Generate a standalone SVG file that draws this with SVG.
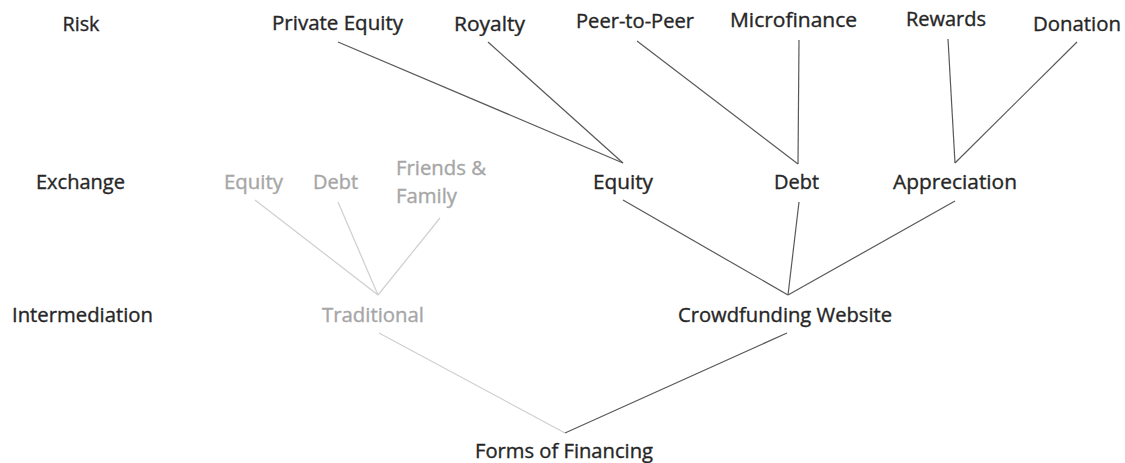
<svg xmlns="http://www.w3.org/2000/svg" width="1125" height="463" viewBox="0 0 1125 463">
<style>
text{font-family:"Open Sans","Liberation Sans",sans-serif;font-size:19.5px;fill:#262626;stroke:#262626;stroke-width:0.35}
.g text{fill:#a6a6a6;stroke:#a6a6a6}
.c line{stroke:#595959;stroke-width:1.2;fill:none}
.c .gl{stroke:#cfcfcf}
</style>
<rect width="1125" height="463" fill="#fff"/>
<g id="connectors" class="c">
<line x1="338" y1="42" x2="623" y2="163"/>
<line x1="488" y1="42" x2="623" y2="163"/>
<line x1="637" y1="41" x2="798" y2="164"/>
<line x1="799" y1="40" x2="798" y2="164"/>
<line x1="948" y1="39" x2="955" y2="163"/>
<line x1="1077" y1="42" x2="955" y2="163"/>
<line x1="623" y1="200" x2="788" y2="295"/>
<line x1="799" y1="202" x2="788" y2="295"/>
<line x1="955" y1="201" x2="788" y2="295"/>
<line class="gl" x1="255" y1="200" x2="378" y2="295"/>
<line class="gl" x1="338" y1="202" x2="378" y2="295"/>
<line class="gl" x1="440" y1="218" x2="378" y2="295"/>
<line class="gl" x1="379" y1="333" x2="565" y2="433"/>
<line x1="787" y1="333" x2="565" y2="433"/>
</g>
<g id="label-risk"><text x="62.5" y="31" textLength="37" lengthAdjust="spacingAndGlyphs">Risk</text></g>
<g id="label-exchange"><text x="36" y="189" textLength="89" lengthAdjust="spacingAndGlyphs">Exchange</text></g>
<g id="label-intermediation"><text x="12" y="322" textLength="141" lengthAdjust="spacingAndGlyphs">Intermediation</text></g>
<g id="node-private-equity"><text x="272" y="30" textLength="131" lengthAdjust="spacingAndGlyphs">Private Equity</text></g>
<g id="node-royalty"><text x="454" y="31" textLength="71" lengthAdjust="spacingAndGlyphs">Royalty</text></g>
<g id="node-peer-to-peer"><text x="576" y="28" textLength="118" lengthAdjust="spacingAndGlyphs">Peer-to-Peer</text></g>
<g id="node-microfinance"><text x="730" y="27" textLength="127" lengthAdjust="spacingAndGlyphs">Microfinance</text></g>
<g id="node-rewards"><text x="906" y="26" textLength="80" lengthAdjust="spacingAndGlyphs">Rewards</text></g>
<g id="node-donation"><text x="1033" y="31" textLength="88" lengthAdjust="spacingAndGlyphs">Donation</text></g>
<g id="node-equity"><text x="593" y="189" textLength="60" lengthAdjust="spacingAndGlyphs">Equity</text></g>
<g id="node-debt"><text x="774" y="189" textLength="45" lengthAdjust="spacingAndGlyphs">Debt</text></g>
<g id="node-appreciation"><text x="893" y="189" textLength="124" lengthAdjust="spacingAndGlyphs">Appreciation</text></g>
<g class="g">
<g id="node-trad-equity"><text x="224" y="189" textLength="59" lengthAdjust="spacingAndGlyphs">Equity</text></g>
<g id="node-trad-debt"><text x="313" y="189" textLength="45" lengthAdjust="spacingAndGlyphs">Debt</text></g>
<g id="node-friends-family"><text x="396" y="175" textLength="90" lengthAdjust="spacingAndGlyphs">Friends &amp;</text><text x="396" y="203" textLength="61" lengthAdjust="spacingAndGlyphs">Family</text></g>
<g id="node-traditional"><text x="322" y="322" textLength="102" lengthAdjust="spacingAndGlyphs">Traditional</text></g>
</g>
<g id="node-crowdfunding"><text x="678" y="322" textLength="214" lengthAdjust="spacingAndGlyphs">Crowdfunding Website</text></g>
<g id="node-forms"><text x="475" y="458" textLength="178" lengthAdjust="spacingAndGlyphs">Forms of Financing</text></g>
</svg>
